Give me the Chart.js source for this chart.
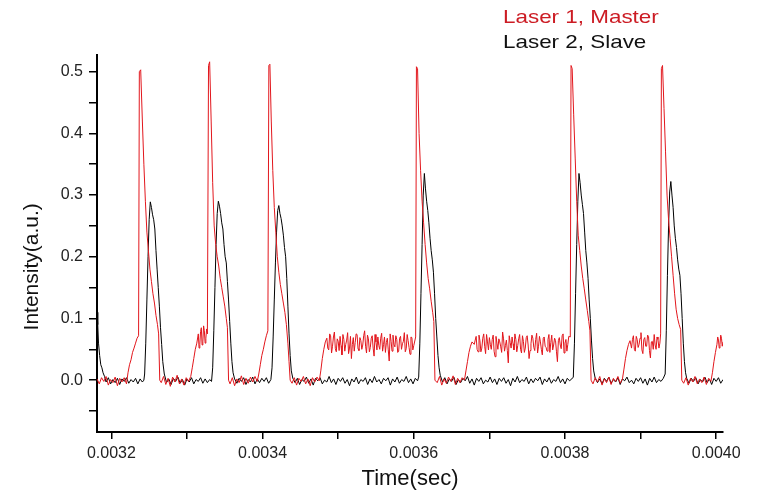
<!DOCTYPE html>
<html>
<head>
<meta charset="utf-8">
<script src="https://cdn.jsdelivr.net/npm/chart.js@4/dist/chart.umd.min.js"></script>
<style>
  html, body { margin: 0; padding: 0; background: #fff; }
  #plot { display: block; }
</style>
</head>
<body>
<canvas id="plot" width="759" height="494"></canvas>
<script>
// Oscilloscope traces, time in microseconds, intensity in arbitrary units.
const seriesLabels = ['Laser 1, Master', 'Laser 2, Slave'];
const seriesColors = ['rgb(226,22,28)', '#000000'];
const legendTextColors = ['rgb(204,28,36)', '#111111'];

const timeRange = [3181, 4009];          // microseconds
const intensityRange = [-0.084, 0.527];
const timeTickStep = 100;                 // 0.0001 s
const intensityTickStep = 0.05;

const masterTrace = [
  [3181,0.002],[3184,-0.006],[3187,0.004],[3190,-0.002],[3193,0.006],[3196,-0.008],[3199,0.001],[3202,-0.004],[3205,0.005],[3208,-0.009],[3211,0.003],[3214,-0.003],[3217,0.004],[3220,-0.006],
  [3222,0.012],[3224,0.025],[3226,0.033],[3228,0.045],[3230,0.052],[3232,0.06],[3234,0.068],[3236,0.072],
  [3237,0.5],[3238.8,0.503],[3241,0.42],[3243,0.35],[3245,0.29],[3247,0.24],[3249,0.21],[3251,0.18],[3253,0.16],[3255,0.14],[3257,0.125],[3259,0.105],[3261,0.09],[3262.5,0.075],[3264,0.0],
  [3266,-0.004],[3269,0.006],[3272,-0.007],[3275,0.003],[3278,-0.01],[3281,0.005],[3284,-0.003],[3287,0.008],[3290,-0.006],[3293,0.002],[3296,-0.008],[3299,0.004],[3302,-0.002],[3305,0.006],
  [3307,0.02],[3309,0.035],[3311,0.05],[3313,0.06],[3315,0.075],[3316,0.052],[3317,0.058],[3318,0.079],[3319,0.085],[3320,0.057],[3321,0.062],[3322,0.088],[3323,0.08],[3324,0.06],[3325,0.068],[3326,0.083],[3327,0.075],
  [3328.5,0.51],[3330,0.516],[3332,0.42],[3334,0.32],[3336,0.25],[3338,0.22],[3340,0.2],[3342,0.185],[3344,0.165],[3346,0.15],[3348,0.135],[3350,0.12],[3352,0.1],[3353.5,0.085],[3355,0.0],
  [3357,-0.006],[3360,0.004],[3363,-0.009],[3366,0.002],[3369,-0.004],[3372,0.007],[3375,-0.007],[3378,0.003],[3381,-0.005],[3384,0.005],[3387,-0.003],[3390,0.006],[3393,-0.002],
  [3395,0.01],[3397,0.025],[3399,0.04],[3401,0.05],[3403,0.062],[3405,0.072],[3407,0.08],
  [3408.3,0.51],[3409.7,0.512],[3411.5,0.42],[3413.5,0.34],[3415.5,0.28],[3417.5,0.24],[3419.5,0.2],[3421.5,0.175],[3423.5,0.155],[3425.5,0.14],[3427.5,0.125],[3429.5,0.11],[3431.5,0.09],[3433.5,0.06],[3435,0.03],[3436.5,0.0],
  [3439,-0.005],[3442,0.004],[3445,-0.008],[3448,0.003],[3451,-0.002],[3454,0.006],[3457,-0.006],[3460,0.002],[3463,-0.009],[3466,0.004],[3469,-0.003],[3472,0.005],[3475,-0.001],
  [3477,0.015],[3479,0.035],[3481,0.05],[3483,0.062],
  [3485,0.068],[3486.25,0.052],[3487.5,0.049],[3488.75,0.075],[3490,0.072],[3491.25,0.044],[3492.5,0.055],[3493.75,0.07],[3495,0.078],[3496.25,0.051],
  [3497.5,0.046],[3498.75,0.067],[3500,0.063],[3501.25,0.048],[3502.5,0.071],[3503.75,0.056],[3505,0.041],[3506.25,0.074],[3507.5,0.066],[3508.75,0.047],
  [3510,0.058],[3511.25,0.065],[3512.5,0.077],[3513.75,0.043],[3515,0.052],[3516.25,0.071],[3517.5,0.035],[3518.75,0.058],[3520,0.069],[3521.25,0.047],
  [3522.5,0.061],[3523.75,0.075],[3525,0.074],[3526.25,0.051],[3527.5,0.048],[3528.75,0.069],[3530,0.064],[3531.25,0.05],[3532.5,0.057],[3533.75,0.072],
  [3535,0.08],[3536.25,0.055],[3537.5,0.044],[3538.75,0.073],[3540,0.067],[3541.25,0.046],[3542.5,0.053],[3543.75,0.068],[3545,0.072],[3546.25,0.052],
  [3547.5,0.039],[3548.75,0.074],[3550,0.062],[3551.25,0.049],[3552.5,0.07],[3553.75,0.056],[3555,0.05],[3556.25,0.068],[3557.5,0.076],[3558.75,0.047],
  [3560,0.058],[3561.25,0.07],[3562.5,0.045],[3563.75,0.061],[3565,0.068],[3566.25,0.049],[3567.5,0.031],[3568.75,0.075],[3570,0.063],[3571.25,0.047],
  [3572.5,0.073],[3573.75,0.058],[3575,0.054],[3576.25,0.072],[3577.5,0.066],[3578.75,0.045],[3580,0.047],[3581.25,0.068],[3582.5,0.071],[3583.75,0.05],
  [3585,0.059],[3586.25,0.063],[3587.5,0.077],[3588.75,0.046],[3590,0.051],[3591.25,0.074],[3592.5,0.064],[3593.75,0.053],[3595,0.042],[3596.25,0.07],
  [3597.5,0.069],[3598.75,0.049],[3600,0.056],
  [3602.5,0.07],[3603.5,0.508],[3605,0.505],[3607,0.4],[3609,0.34],[3611,0.29],[3613,0.255],[3615,0.22],[3617,0.19],[3619,0.165],[3621,0.148],[3623,0.128],[3625,0.11],[3626.5,0.095],[3628,0.0],
  [3631,-0.004],[3634,0.006],[3637,-0.008],[3640,0.002],[3643,-0.005],[3646,0.005],[3649,-0.002],[3652,0.007],[3655,-0.007],[3658,0.003],[3661,-0.004],[3664,0.004],[3667,0.0],
  [3669,0.015],[3671,0.03],[3673,0.045],[3675,0.055],[3677,0.062],
  [3680,0.058],[3681.25,0.065],[3682.5,0.071],[3683.75,0.05],[3685,0.046],[3686.25,0.073],[3687.5,0.064],[3688.75,0.046],[3690,0.052],[3691.25,0.068],
  [3692.5,0.075],[3693.75,0.055],[3695,0.043],[3696.25,0.074],[3697.5,0.062],[3698.75,0.049],[3700,0.069],[3701.25,0.058],[3702.5,0.05],[3703.75,0.066],
  [3705,0.073],[3706.25,0.047],[3707.5,0.038],[3708.75,0.071],[3710,0.06],[3711.25,0.05],[3712.5,0.067],[3713.75,0.062],[3715,0.054],[3716.25,0.045],
  [3717.5,0.078],[3718.75,0.067],[3720,0.047],[3721.25,0.056],[3722.5,0.065],[3723.75,0.048],[3725,0.028],[3726.25,0.072],[3727.5,0.061],[3728.75,0.052],
  [3730,0.07],[3731.25,0.059],[3732.5,0.049],[3733.75,0.075],[3735,0.066],[3736.25,0.046],[3737.5,0.056],[3738.75,0.067],[3740,0.074],[3741.25,0.05],
  [3742.5,0.044],[3743.75,0.072],[3745,0.063],[3746.25,0.045],[3747.5,0.052],[3748.75,0.069],[3750,0.072],[3751.25,0.057],[3752.5,0.035],[3753.75,0.048],
  [3755,0.059],[3756.25,0.073],[3757.5,0.068],[3758.75,0.053],[3760,0.048],[3761.25,0.066],[3762.5,0.076],[3763.75,0.044],[3765,0.055],[3766.25,0.071],
  [3767.5,0.062],[3768.75,0.05],[3770,0.041],[3771.25,0.068],[3772.5,0.07],[3773.75,0.055],[3775,0.053],[3776.25,0.047],[3777.5,0.066],[3778.75,0.074],
  [3780,0.045],[3781.25,0.061],[3782.5,0.073],[3783.75,0.049],[3785,0.057],[3786.25,0.068],[3787.5,0.064],[3788.75,0.046],[3790,0.03],[3791.25,0.064],
  [3792.5,0.069],[3793.75,0.057],[3795,0.051],[3796.25,0.072],[3797.5,0.075],[3798.75,0.044],[3800,0.06],[3801.25,0.066],[3802.5,0.047],[3803.75,0.058],
  [3805,0.071],
  [3807,0.07],[3808,0.51],[3809.5,0.505],[3811.5,0.43],[3813.5,0.36],[3815.5,0.29],[3817.5,0.235],[3819.5,0.21],[3821.5,0.185],[3823.5,0.165],[3825.5,0.148],[3827.5,0.13],[3829.5,0.113],[3831.5,0.095],[3833,0.08],[3834.5,0.0],
  [3837,-0.006],[3840,0.004],[3843,-0.003],[3846,0.006],[3849,-0.008],[3852,0.002],[3855,-0.004],[3858,0.005],[3861,-0.007],[3864,0.003],[3867,-0.002],[3870,0.006],[3873,-0.005],[3876,0.002],
  [3878,0.018],[3880,0.035],[3882,0.048],[3884,0.058],[3886,0.064],
  [3888,0.052],[3889.25,0.066],[3890.5,0.072],[3891.75,0.05],[3893,0.047],[3894.25,0.071],[3895.5,0.066],[3896.75,0.053],[3898,0.058],[3899.25,0.068],
  [3900.5,0.077],[3901.75,0.049],[3903,0.043],[3904.25,0.066],[3905.5,0.069],[3906.75,0.055],[3908,0.055],[3909.25,0.073],[3910.5,0.071],[3911.75,0.048],
  [3913,0.036],[3914.25,0.062],[3915.5,0.063],[3916.75,0.05],[3918,0.074],[3919.25,0.057],[3920.5,0.05],[3921.75,0.07],[3923,0.066],[3924.25,0.052],
  [3925.5,0.06],
  [3926.5,0.075],[3927.5,0.505],[3929,0.51],[3931,0.44],[3933,0.37],[3935,0.3],[3937,0.26],[3939,0.23],[3941,0.2],[3943,0.17],[3945,0.14],[3947,0.115],[3949,0.1],[3951,0.09],[3953,0.082],[3954.5,0.0],
  [3957,-0.005],[3960,0.004],[3963,-0.008],[3966,0.003],[3969,-0.003],[3972,0.006],[3975,-0.006],[3978,0.002],[3981,-0.004],[3984,0.005],[3987,-0.007],[3990,0.003],[3993,-0.002],
  [3995,0.012],[3997,0.03],[3999,0.045],[4001,0.058],[4002,0.07],[4003,0.065],[4004,0.052],[4005,0.058],[4006,0.073],[4007,0.068],[4008,0.055],[4009,0.062]
];

const slaveTrace = [
  [3181,0.11],[3182,0.09],[3183,0.06],[3184.5,0.04],[3186,0.025],[3187.5,0.02],[3189,0.012],[3191,0.006],
  [3193,-0.003],[3196,0.004],[3199,-0.006],[3202,0.001],[3205,-0.004],[3208,0.003],[3211,-0.007],[3214,0.002],[3217,-0.002],[3220,0.004],[3223,-0.005],[3226,0.001],[3229,-0.003],[3232,0.003],[3235,-0.006],[3238,0.002],[3241,-0.003],[3243,0.0],
  [3244,0.01],[3245.5,0.06],[3247,0.13],[3248.5,0.2],[3250,0.26],[3251.5,0.289],[3253,0.28],[3254.5,0.268],[3256,0.26],[3257.5,0.245],[3259,0.21],[3260.5,0.18],[3262,0.15],[3263.5,0.12],[3265,0.085],[3266.5,0.058],[3268,0.03],[3270,0.01],
  [3273,-0.004],[3276,0.002],[3279,-0.007],[3282,0.003],[3285,-0.002],[3288,0.005],[3291,-0.005],[3294,0.001],[3297,-0.008],[3300,0.002],[3303,-0.003],[3306,0.004],[3309,-0.006],[3312,0.001],[3315,-0.002],[3318,0.004],[3321,-0.005],[3324,0.002],[3327,-0.004],[3330,0.001],[3332.5,-0.002],
  [3334,0.02],[3335.5,0.08],[3337,0.15],[3338.5,0.22],[3340,0.27],[3341.5,0.29],[3343,0.282],[3344.5,0.27],[3346,0.255],[3347.5,0.245],[3349,0.22],[3350.5,0.2],[3352,0.19],[3353.5,0.16],[3355,0.13],[3356.5,0.095],[3358,0.06],[3359.5,0.03],[3361,0.012],[3363,0.002],
  [3366,-0.005],[3369,0.003],[3372,-0.002],[3375,0.004],[3378,-0.007],[3381,0.001],[3384,-0.003],[3387,0.005],[3390,-0.006],[3393,0.002],[3396,-0.004],[3399,0.003],[3402,-0.002],[3405,0.004],[3408,-0.005],[3411,0.001],
  [3412.5,0.02],[3414,0.07],[3415.5,0.13],[3417,0.19],[3418.5,0.24],[3420,0.275],[3421.5,0.283],[3423,0.27],[3424.5,0.262],[3426,0.25],[3427.5,0.235],[3429,0.215],[3430.5,0.2],[3432,0.165],[3433.5,0.12],[3435,0.075],[3436.5,0.04],[3438,0.015],[3440,0.003],
  [3443,-0.004],[3446,0.003],[3449,-0.007],[3452,0.001],[3455,-0.002],[3458,0.005],[3461,-0.005],[3464,0.002],[3467,-0.008],[3470,0.003],[3473,-0.001],[3476,0.004],[3479,-0.006],[3482,0.0],[3485,-0.003],[3488,0.006],[3491,-0.004],[3494,0.002],[3497,-0.007],[3500,0.003],
  [3503,-0.002],[3506,0.004],[3509,-0.005],[3512,0.001],[3515,-0.009],[3518,0.002],[3521,-0.003],[3524,0.005],[3527,-0.006],[3530,0.001],[3533,-0.002],[3536,0.004],[3539,-0.007],[3542,0.002],[3545,-0.004],[3548,0.006],[3551,-0.003],[3554,0.001],[3557,-0.006],[3560,0.003],
  [3563,-0.001],[3566,0.004],[3569,-0.008],[3572,0.002],[3575,-0.003],[3578,0.005],[3581,-0.005],[3584,0.001],[3587,-0.002],[3590,0.006],[3593,-0.004],[3596,0.002],[3599,-0.006],[3602,0.003],[3605,-0.001],
  [3606.5,0.005],[3608,0.06],[3609.5,0.14],[3611,0.22],[3612.5,0.3],[3614,0.335],[3615.5,0.31],[3617,0.29],[3618.5,0.275],[3620,0.255],[3621.5,0.23],[3623,0.21],[3624.5,0.195],[3626,0.175],[3627.5,0.14],[3629,0.1],[3630.5,0.07],[3632,0.04],[3633.5,0.02],[3635,0.008],
  [3638,-0.003],[3641,0.004],[3644,-0.006],[3647,0.002],[3650,-0.002],[3653,0.005],[3656,-0.007],[3659,0.001],[3662,-0.004],[3665,0.003],[3668,-0.001],[3671,0.006],[3674,-0.005],[3677,0.002],[3680,-0.008],[3683,0.003],[3686,-0.002],[3689,0.004],[3692,-0.006],[3695,0.0],
  [3698,-0.003],[3701,0.005],[3704,-0.004],[3707,0.002],[3710,-0.007],[3713,0.003],[3716,-0.002],[3719,0.004],[3722,-0.005],[3725,0.001],[3728,-0.009],[3731,0.003],[3734,-0.003],[3737,0.006],[3740,-0.004],[3743,0.001],[3746,-0.002],[3749,0.005],[3752,-0.006],[3755,0.002],
  [3758,-0.004],[3761,0.003],[3764,-0.001],[3767,0.005],[3770,-0.007],[3773,0.002],[3776,-0.003],[3779,0.004],[3782,-0.005],[3785,0.001],[3788,-0.002],[3791,0.006],[3794,-0.004],[3797,0.002],[3800,-0.006],[3803,0.003],[3806,-0.001],[3809,0.002],
  [3811,0.005],[3812.5,0.06],[3814,0.14],[3815.5,0.22],[3817,0.29],[3818.5,0.335],[3820,0.32],[3821.5,0.3],[3823,0.285],[3824.5,0.27],[3826,0.24],[3827.5,0.21],[3829,0.19],[3830.5,0.165],[3832,0.13],[3833.5,0.1],[3835,0.065],[3836.5,0.035],[3838,0.015],[3840,0.003],
  [3843,-0.004],[3846,0.002],[3849,-0.006],[3852,0.003],[3855,-0.002],[3858,0.005],[3861,-0.005],[3864,0.001],[3867,-0.003],[3870,0.004],[3873,-0.007],[3876,0.002],[3879,-0.001],[3882,0.005],[3885,-0.004],[3888,0.0],[3891,-0.006],[3894,0.003],[3897,-0.002],[3900,0.004],
  [3903,-0.005],[3906,0.002],[3909,-0.008],[3912,0.003],[3915,-0.003],[3918,0.005],[3921,-0.004],[3924,0.001],[3927,-0.002],[3930,0.003],
  [3932.5,0.01],[3934,0.08],[3935.5,0.17],[3937,0.25],[3938.5,0.305],[3940,0.322],[3941.5,0.3],[3943,0.28],[3944.5,0.25],[3946,0.23],[3947.5,0.215],[3949,0.195],[3950.5,0.18],[3952,0.17],[3953.5,0.14],[3955,0.1],[3956.5,0.06],[3958,0.03],[3959.5,0.012],[3961,0.003],
  [3964,-0.005],[3967,0.003],[3970,-0.002],[3973,0.004],[3976,-0.006],[3979,0.001],[3982,-0.003],[3985,0.005],[3988,-0.004],[3991,0.002],[3994,-0.007],[3997,0.003],[4000,-0.002],[4003,0.004],[4006,-0.005],[4009,0.001]
];

const toPoints = trace => trace.map(([t, v]) => ({ x: t, y: v }));

const fontFamily = '"Liberation Sans", Arial, Helvetica, sans-serif';

// Two stacked, coloured text-only legend entries in the top-right corner.
const stackedLegend = {
  id: 'stackedLegend',
  afterDraw(chart) {
    const ctx = chart.ctx;
    ctx.save();
    ctx.font = '19px ' + fontFamily;
    ctx.textBaseline = 'alphabetic';
    ctx.textAlign = 'left';
    chart.data.datasets.forEach((ds, i) => {
      ctx.save();
      ctx.translate(503, 23 + i * 24.6);
      ctx.scale(1.18, 1);
      ctx.fillStyle = legendTextColors[i];
      ctx.fillText(ds.label, 0, 0);
      ctx.restore();
    });
    ctx.restore();
  }
};

new Chart(document.getElementById('plot'), {
  type: 'line',
  data: {
    datasets: [
      { label: seriesLabels[0], data: toPoints(masterTrace), borderColor: seriesColors[0],
        borderWidth: 1, pointRadius: 0, tension: 0, fill: false },
      { label: seriesLabels[1], data: toPoints(slaveTrace), borderColor: seriesColors[1],
        borderWidth: 1, pointRadius: 0, tension: 0, fill: false }
    ]
  },
  options: {
    responsive: false,
    animation: false,
    devicePixelRatio: 1,
    layout: { padding: { top: 55, right: 36, bottom: 0, left: 0 } },
    plugins: { legend: { display: false }, tooltip: { enabled: false } },
    scales: {
      x: {
        type: 'linear',
        min: timeRange[0],
        max: timeRange[1],
        afterFit: s => { s.height = 62; },
        border: { display: true, color: '#000', width: 2 },
        grid: { drawOnChartArea: false, drawTicks: true, tickLength: 7, color: '#000', lineWidth: 1.5 },
        ticks: {
          stepSize: timeTickStep, includeBounds: false, autoSkip: false, maxRotation: 0,
          padding: 5, color: '#222', font: { family: fontFamily, size: 16 },
          callback: v => (Math.round(v / timeTickStep) % 2 === 0 ? (v / 1e6).toFixed(4) : '')
        },
        title: { display: true, text: 'Time(sec)', color: '#111',
                 font: { family: fontFamily, size: 22 }, padding: { top: 0, bottom: 2 } }
      },
      y: {
        min: intensityRange[0],
        max: intensityRange[1],
        afterFit: s => { s.width = 97; },
        border: { display: true, color: '#000', width: 2 },
        grid: { drawOnChartArea: false, drawTicks: true, tickLength: 8, color: '#000', lineWidth: 1.5 },
        ticks: {
          stepSize: intensityTickStep, includeBounds: false, autoSkip: false,
          padding: 6, color: '#222', font: { family: fontFamily, size: 16 },
          callback: v => {
            const tenths = v * 10;
            return Math.abs(tenths - Math.round(tenths)) < 1e-6 ? v.toFixed(1) : '';
          }
        },
        title: { display: true, text: 'Intensity(a.u.)        ', color: '#111',
                 font: { family: fontFamily, size: 21 }, padding: { top: 20, bottom: 0 } }
      }
    }
  },
  plugins: [stackedLegend]
});
</script>
</body>
</html>
